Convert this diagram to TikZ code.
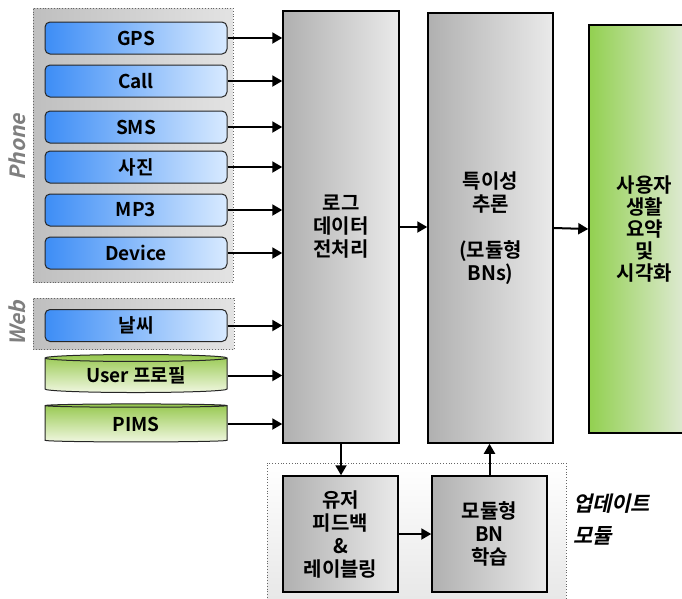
\documentclass[tikz,border=0pt]{standalone}
\usepackage{fontspec}
\setmainfont{Noto Sans CJK KR}[BoldFont={Noto Sans CJK KR Bold}]
\newfontfamily\tagfont{Noto Sans CJK KR Bold}[FakeSlant=0.22]
\usetikzlibrary{shapes.geometric,arrows.meta}

\definecolor{srcDark}{HTML}{3D8DF6}
\definecolor{srcLight}{HTML}{D8EAFF}
\definecolor{boxDark}{HTML}{B0B0B0}
\definecolor{boxLight}{HTML}{EAEAEA}
\definecolor{dbDark}{HTML}{96C84E}
\definecolor{dbLight}{HTML}{F0F7E0}
\definecolor{sumDark}{HTML}{92D050}
\definecolor{sumLight}{HTML}{EBEEE8}
\definecolor{tagGray}{HTML}{7F7F7F}

\begin{document}
\begin{tikzpicture}[x=1pt,y=-1pt,line width=2pt,>={Triangle[length=10pt,width=11pt]}]
    \tikzstyle{every node}=[font=\bfseries\fontsize{19}{23}\selectfont,align=center,inner sep=0pt]
    \tikzstyle{group}=[draw=black!60,dotted,line width=0.8pt]
    \tikzstyle{source}=[draw=black!85,line width=1pt,rounded corners=5pt,minimum width=182pt,minimum height=32pt,left color=srcDark,right color=srcLight]
    \tikzstyle{db}=[cylinder,shape border rotate=90,aspect=0.07,draw=black!85,line width=1pt,minimum width=182pt,minimum height=38pt,top color=dbDark,bottom color=dbLight]
    \tikzstyle{stage}=[draw=black,line width=1.5pt,left color=boxDark,right color=boxLight,font=\bfseries\fontsize{20}{23}\selectfont]
    \tikzstyle{tag}=[font=\tagfont\fontsize{21}{32}\selectfont]

    \useasboundingbox (0,0) rectangle (682,598);

    % Draw the group frames
    \node[group,left color=gray!50,right color=gray!22,minimum width=200pt,minimum height=274pt] (PG) at (133,145) {};
    \node[group,left color=gray!50,right color=gray!22,minimum width=201pt,minimum height=51pt] (WG) at (133.5,323.5) {};
    \node[group,top color=white,bottom color=gray!20,minimum width=299pt,minimum height=150pt] (UG) at (416.5,538) {};
    \node[tag,text=tagGray,rotate=90] (PT) at (17,147) {Phone};
    \node[tag,text=tagGray,rotate=90] (WT) at (17,323) {Web};
    \node[tag,align=left,anchor=west] (UT) at (572,520) {업데이트\\모듈};

    % Draw the log sources
    \foreach \name / \y / \txt in {1/38/GPS,2/81/Call,3/127/SMS,4/167/사진,5/210/MP3,6/253/Device,7/325.5/날씨}
        \node[source] (S-\name) at (136,\y) {\txt};

    % Draw the stored data
    \node[db] (D-1) at (136,375.5) {User 프로필};
    \node[db] (D-2) at (136,424) {PIMS};

    % Draw the main stages
    \node[stage,minimum width=116pt,minimum height=432pt] (Log) at (341,227) {로그\\데이터\\전처리};
    \node[stage,minimum width=125pt,minimum height=430pt] (Inf) at (490.5,228) {특이성\\추론\\[23pt](모듈형\\BNs)};
    \node[draw=black,line width=1.5pt,left color=sumDark,right color=sumLight,minimum width=111pt,minimum height=408pt,font=\bfseries\fontsize{20}{22}\selectfont] (Sum) at (644.5,229) {사용자\\생활\\요약\\및\\시각화};

    % Draw the update stages
    \node[stage,minimum width=115pt,minimum height=116pt] (Fb) at (340.5,534) {유저\\피드백\\\&\\레이블링};
    \node[stage,minimum width=115pt,minimum height=116pt] (BN) at (489.5,534) {모듈형\\BN\\학습};

    % Connect every source to the log stage
    \foreach \source in {1,...,7}
        \draw[->] (S-\source.east) -- (S-\source.east -| Log.west);
    \foreach \source in {1,2}
        \draw[->] (D-\source.east) -- (D-\source.east -| Log.west);

    % Connect the stages
    \draw[->] (Log.east) -- (Log.east -| Inf.west);
    \draw[->] (Inf.east) -- (Sum.west);
    \draw[->] (Log.south) -- (Log.south |- Fb.north);
    \draw[->] (Fb.east) -- (Fb.east -| BN.west);
    \draw[->] (BN.north) -- (BN.north |- Inf.south);
\end{tikzpicture}
\end{document}
